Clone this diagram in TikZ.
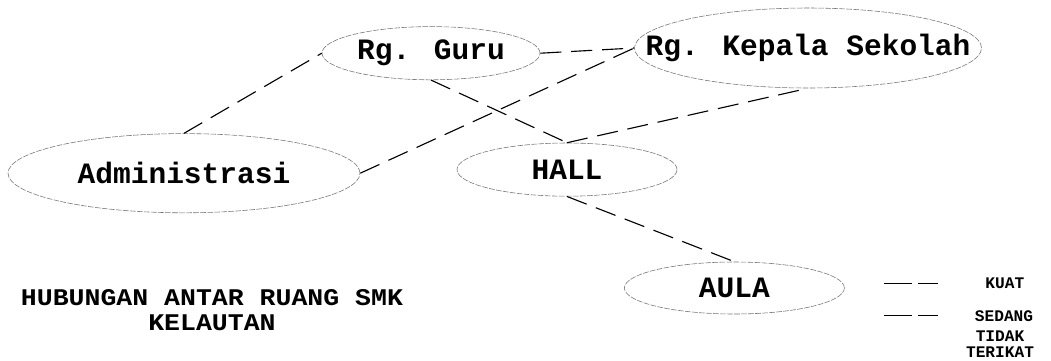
\documentclass[tikz,border=0pt]{standalone}
\usepackage{fontspec}
\newfontfamily\courfont{Liberation Mono}
\usetikzlibrary{shapes.geometric}

\begin{document}
\begin{tikzpicture}[
    room/.style={ellipse, draw=black!55, line width=0.4pt, dash pattern=on 4pt off 1pt, inner sep=-1cm, font=\courfont\bfseries\fontsize{21}{24}\selectfont},
    link/.style={line width=0.8pt, dash pattern=on 15pt off 7pt},
    keyline/.style={line width=0.5pt, dash pattern=on 20pt off 4pt},
    keytxt/.style={font=\courfont\bfseries\fontsize{11.5}{11.5}\selectfont, align=center, inner sep=1pt},
  ]
    \useasboundingbox (0,0) rectangle (26.275,-9);

    \node[room, minimum width=8.8cm, minimum height=1.98cm] (adm) at (4.6,-4.33) {Administrasi};
    \node[room, minimum width=5.45cm, minimum height=1.33cm] (guru) at (10.775,-1.33) {Rg. Guru};
    \node[room, minimum width=8.675cm, minimum height=2cm] (kepsek) at (20.2,-1.2) {Rg. Kepala Sekolah};
    \node[room, minimum width=5.5cm, minimum height=1.33cm] (hall) at (14.175,-4.24) {HALL};
    \node[room, minimum width=5.5cm, minimum height=1.3cm] (aula) at (18.36,-7.2) {AULA};

    \draw[link] (adm.north) -- (guru.west);
    \draw[link] (adm.east) -- (kepsek.west);
    \draw[link] (guru.east) -- (kepsek.west);
    \draw[link] (guru.south) -- (hall.north);
    \draw[link] (hall.north) -- (kepsek.south);
    \draw[link] (hall.south) -- (aula.north);

    \node[font=\courfont\bfseries\fontsize{17}{17.5}\selectfont, align=center, transform shape, xscale=1.11] (title) at (5.3,-7.75) {HUBUNGAN ANTAR RUANG SMK\\KELAUTAN};

    \coordinate (k1a) at (22.1,-7.08);
    \coordinate (k1b) at (23.45,-7.08);
    \coordinate (k2a) at (22.1,-7.88);
    \coordinate (k2b) at (23.45,-7.88);
    \draw[keyline] (k1a) -- (k1b);
    \draw[keyline] (k2a) -- (k2b);
    \node[keytxt] (kuat) at (25.12,-7.08) {KUAT};
    \node[keytxt] (sedang) at (25.1,-7.9) {SEDANG};
    \node[keytxt] (tidak) at (25.0,-8.6) {TIDAK\\TERIKAT};
\end{tikzpicture}
\end{document}
